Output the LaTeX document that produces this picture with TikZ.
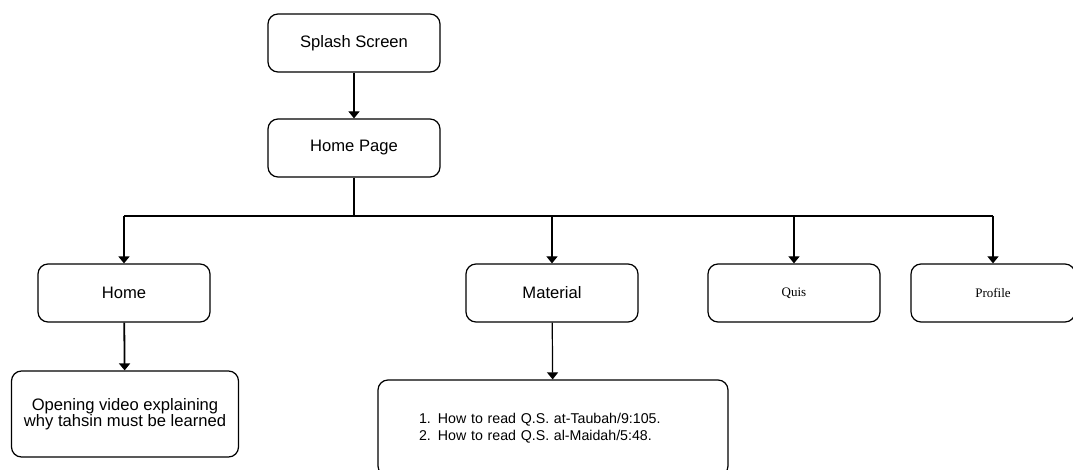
\documentclass[tikz,border=0pt]{standalone}
\usepackage{fontspec}
\setmainfont{Liberation Sans}
\newfontfamily\quisfont{Liberation Serif}
\usetikzlibrary{arrows.meta}
\tikzset{
  screen/.style={draw, line width=1.2pt, rounded corners=10pt, minimum width=172pt,
    minimum height=58pt, align=center, font=\fontsize{16.6}{14.5}\selectfont},
  link/.style={line width=1.2pt, -{Triangle[width=11pt,length=7pt]}},
}
\begin{document}
\begin{tikzpicture}[x=1pt,y=-1pt]
  \useasboundingbox (0,0) rectangle (1073,470);
  \node[screen] (splash) at (354,43) {Splash Screen};
  \node[screen] (homepage) at (354,148) {Home Page};
  % menu row
  \node[screen] (home) at (124,293) {Home};
  \node[screen] (material) at (552,293) {Material};
  \node[screen, font=\quisfont\fontsize{13}{15}\selectfont] (quis) at (794,293) {Quis};
  \node[screen, minimum width=164pt, font=\quisfont\fontsize{13}{15}\selectfont] (profile) at (993,293) {Profile};
  % content boxes
  \node[screen, minimum width=227pt, minimum height=86pt] (video) at (125,414)
    {Opening video explaining\\why tahsin must be learned};
  \node[screen, text width=268pt, inner xsep=41pt, minimum height=96pt, align=left,
    font=\fontsize{14.2}{17}\selectfont] (lessons) at (553,428)
    {1. How to read Q.S. at-Taubah/9:105.\\2. How to read Q.S. al-Maidah/5:48.};
  % connectors
  \coordinate (busL) at (124,216);
  \coordinate (busR) at (993,216);
  \draw[link] (splash) -- (homepage);
  \draw[line width=1.2pt] (homepage.south) -- (homepage.south |- busL);
  \draw[line width=1.2pt] (busL) -- (busR);
  \draw[link, line width=1.8pt] (busL) -- (home);
  \draw[link] (material |- busL) -- (material);
  \draw[link] (quis |- busL) -- (quis);
  \draw[link] (busR) -- (profile);
  \draw[link, line width=1.8pt] (home) -- (video);
  \draw[link] (material) -- (lessons);
\end{tikzpicture}
\end{document}
